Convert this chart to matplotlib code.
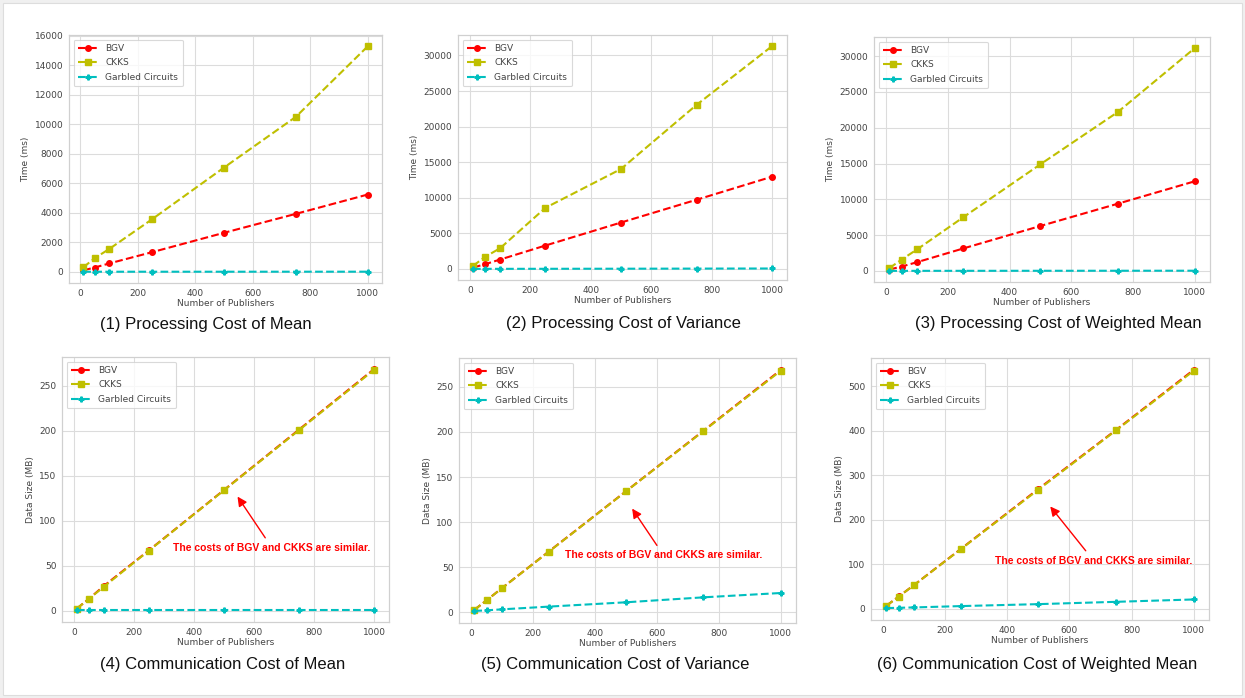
import matplotlib
matplotlib.use("Agg")
import matplotlib.pyplot as plt
from matplotlib.patches import Rectangle

# Data
PUBLISHERS = [10, 50, 100, 250, 500, 750, 1000]

# processing time (ms)
MEAN_BGV = [100, 290, 565, 1333, 2645, 3930, 5240]
MEAN_CKKS = [300, 925, 1540, 3570, 7070, 10510, 15290]
MEAN_GC = [5, 5, 5, 6, 6, 7, 8]

VAR_BGV = [190, 660, 1320, 3290, 6520, 9720, 12960]
VAR_CKKS = [420, 1690, 2910, 8590, 14040, 23050, 31310]
VAR_GC = [8, 10, 12, 18, 30, 45, 60]

WMEAN_BGV = [190, 610, 1220, 3140, 6280, 9380, 12520]
WMEAN_CKKS = [380, 1590, 3000, 7500, 14900, 22170, 31120]
WMEAN_GC = [8, 10, 12, 15, 20, 25, 30]

# communication size (MB)
COMM_MEAN_BGV = [2.7, 13.4, 27.8, 67.3, 134.3, 201.4, 268.6]
COMM_MEAN_CKKS = [2.7, 13.4, 26.9, 67.0, 134.0, 200.8, 267.8]
COMM_MEAN_GC = [1.1, 1.1, 1.1, 1.1, 1.1, 1.1, 1.1]

COMM_VAR_BGV = [2.7, 13.4, 27.0, 67.2, 134.2, 201.2, 268.6]
COMM_VAR_CKKS = [2.7, 13.4, 26.9, 67.0, 134.0, 200.8, 267.8]
COMM_VAR_GC = [1.5, 2.2, 3.3, 6.3, 11.1, 16.6, 21.4]

COMM_WMEAN_BGV = [6.7, 27.6, 53.8, 134.5, 269.5, 402.0, 537.0]
COMM_WMEAN_CKKS = [6.7, 27.4, 53.6, 134.0, 268.0, 401.0, 535.0]
COMM_WMEAN_GC = [1.5, 2.2, 3.0, 6.0, 10.4, 15.6, 20.9]

LABELS = ["BGV", "CKKS", "Garbled Circuits"]
NOTE = "The costs of BGV and CKKS are similar."

GRID = "#dcdcdc"
SPINE = "#d0d0d0"
TICK = "#444444"


def draw_panel(ax, bgv, ckks, gc, ylabel):
    ax.plot(PUBLISHERS, bgv, "r--o", lw=1.5, ms=4, label=LABELS[0])
    ax.plot(PUBLISHERS, ckks, "y--s", lw=1.5, ms=4, label=LABELS[1])
    ax.plot(PUBLISHERS, gc, "c--P", lw=1.5, ms=3.5, label=LABELS[2])
    ax.set_xlabel("Number of Publishers", fontsize=6.5, color=TICK, labelpad=1)
    ax.set_ylabel(ylabel, fontsize=6.5, color=TICK, labelpad=3)
    ax.tick_params(labelsize=6.5, colors=TICK, length=0, pad=4)
    ax.grid(True, color=GRID, lw=0.8)
    ax.set_axisbelow(True)
    for s in ax.spines.values():
        s.set_color(SPINE)
        s.set_linewidth(0.9)
    ax.set_xticks([0, 200, 400, 600, 800, 1000])
    leg = ax.legend(loc="upper left", fontsize=6.5, frameon=True,
                    handlelength=2.2, borderpad=0.5, labelspacing=0.6)
    leg.get_frame().set_edgecolor("#d0d0d0")
    leg.get_frame().set_linewidth(0.8)
    for t in leg.get_texts():
        t.set_color(TICK)


def add_note(ax, head, tail):
    ax.annotate(NOTE, xy=head, xytext=tail, ha="center", va="center",
                fontsize=7.5, fontweight="bold", color="red",
                family=["Liberation Sans", "DejaVu Sans"],
                arrowprops=dict(arrowstyle="-|>", color="red", lw=1.0,
                                mutation_scale=14, shrinkA=2, shrinkB=0))


fig = plt.figure(figsize=(12.45, 6.98), dpi=100)
fig.patch.set_facecolor("#f0f0f0")
fig.patches.append(Rectangle((0.0025, 0.004), 0.995, 0.992, transform=fig.transFigure,
                             facecolor="white", edgecolor="#dddddd", lw=0.8, zorder=-1))

W, H = 1245.0, 698.0


def axes_px(l, r, t, b):
    return fig.add_axes([l / W, 1 - b / H, (r - l) / W, (b - t) / H])


ax1 = axes_px(69, 382, 35, 283)
ax2 = axes_px(458, 787, 35, 280)
ax3 = axes_px(874, 1210, 37, 282)
ax4 = axes_px(62, 389, 357, 622)
ax5 = axes_px(459, 796, 358, 623)
ax6 = axes_px(871, 1209, 358, 620)

draw_panel(ax1, MEAN_BGV, MEAN_CKKS, MEAN_GC, "Time (ms)")
draw_panel(ax2, VAR_BGV, VAR_CKKS, VAR_GC, "Time (ms)")
draw_panel(ax3, WMEAN_BGV, WMEAN_CKKS, WMEAN_GC, "Time (ms)")
draw_panel(ax4, COMM_MEAN_BGV, COMM_MEAN_CKKS, COMM_MEAN_GC, "Data Size (MB)")
draw_panel(ax5, COMM_VAR_BGV, COMM_VAR_CKKS, COMM_VAR_GC, "Data Size (MB)")
draw_panel(ax6, COMM_WMEAN_BGV, COMM_WMEAN_CKKS, COMM_WMEAN_GC, "Data Size (MB)")

ax1.set_yticks(range(0, 16001, 2000))
ax2.set_yticks(range(0, 30001, 5000))
ax3.set_yticks(range(0, 30001, 5000))
ax4.set_yticks(range(0, 251, 50))
ax5.set_yticks(range(0, 251, 50))
ax6.set_yticks(range(0, 501, 100))

add_note(ax4, (545, 127), (660, 70))
add_note(ax5, (520, 115), (622, 63))
add_note(ax6, (538, 230), (678, 108))

captions = [
    (206, 324, "(1) Processing Cost of Mean"),
    (623, 323, "(2) Processing Cost of Variance"),
    (1058, 323, "(3) Processing Cost of Weighted Mean"),
    (223, 664, "(4) Communication Cost of Mean"),
    (615, 664, "(5) Communication Cost of Variance"),
    (1037, 664, "(6) Communication Cost of Weighted Mean"),
]
for cx, cy, text in captions:
    fig.text(cx / W, 1 - cy / H, text, ha="center", va="center", fontsize=12,
             family=["Liberation Sans", "DejaVu Sans"], color="#111111")

fig.savefig("out.png", dpi=100, facecolor=fig.get_facecolor())
